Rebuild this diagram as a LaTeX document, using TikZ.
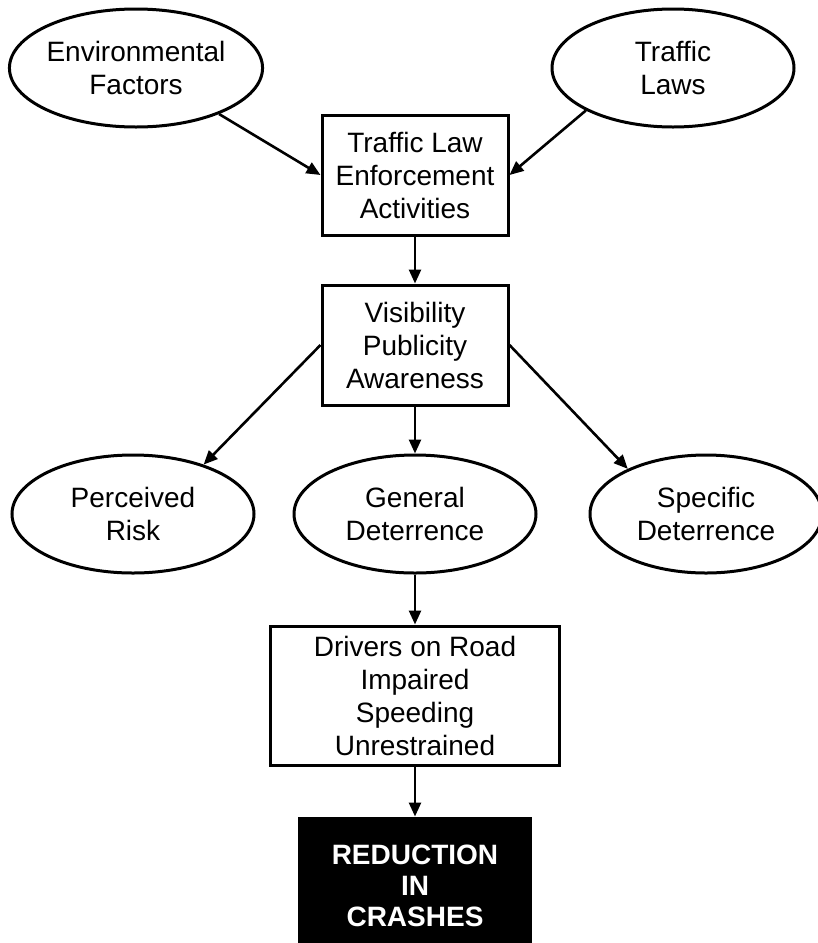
\documentclass[tikz,border=0pt]{standalone}
\usepackage{fontspec}
\setmainfont{Liberation Sans}
\usetikzlibrary{positioning, arrows.meta, shapes.geometric}

\begin{document}
\begin{tikzpicture}[font=\fontsize{28}{33}\selectfont, >={Triangle[length=14pt, width=12pt]},
  node distance=47pt,
  caja/.style={rectangle, draw, line width=3pt, inner sep=0pt, minimum width=186pt, minimum height=120pt, align=center},
  ovalo/.style={ellipse, draw, line width=3pt, inner sep=0pt, minimum width=242pt, minimum height=118pt, align=center},
  flecha/.style={->, line width=2.6pt}]
  \useasboundingbox (0,0) rectangle (818pt,-943pt);
  \node[caja] (enforce) at (415pt,-175pt) {Traffic Law\\Enforcement\\Activities};
  \node[ovalo] (env) at (136pt,-68pt) {Environmental\\Factors};
  \node[ovalo] (laws) at (673pt,-68pt) {Traffic\\Laws};
  \node[caja, below=of enforce] (visib) {Visibility\\Publicity\\Awareness};
  \node[ovalo, below=of visib] (gen) {General\\Deterrence};
  \node[ovalo, left=37pt of gen] (perc) {Perceived\\Risk};
  \node[ovalo, right=51pt of gen, minimum width=232pt] (spec) {Specific\\Deterrence};
  \node[caja, below=50pt of gen, minimum width=289pt, minimum height=139pt] (drivers) {Drivers on Road\\Impaired\\Speeding\\Unrestrained};
  \node[caja, below=50pt of drivers, fill=black, text=white, font=\fontsize{28}{31}\selectfont\bfseries,
    minimum width=231pt, minimum height=136pt] (crash) {REDUCTION\\IN\\CRASHES};
  \draw[flecha] (env.331) -- (enforce.west);
  \draw[flecha] (laws.206) -- (enforce.east);
  \draw[flecha] (enforce) -- (visib);
  \draw[flecha] (visib.west) -- (perc.35);
  \draw[flecha] (visib) -- (gen);
  \draw[flecha] (visib.east) -- (spec.150);
  \draw[flecha] (gen) -- (drivers);
  \draw[flecha] (drivers) -- (crash);
\end{tikzpicture}
\end{document}
